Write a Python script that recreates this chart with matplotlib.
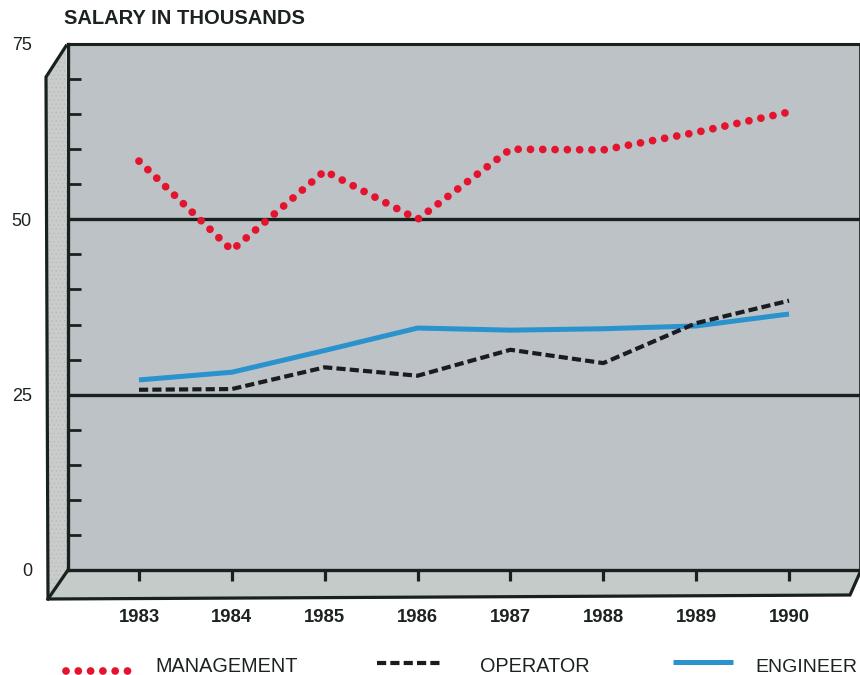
import matplotlib
matplotlib.use("Agg")
import matplotlib.pyplot as plt
from matplotlib.patches import Polygon
from matplotlib.ticker import FixedLocator

# ---------------- data ----------------
years = [1983, 1984, 1985, 1986, 1987, 1988, 1989, 1990]
management = [58.3, 45.6, 56.9, 50.0, 60.0, 59.9, 62.4, 65.3]
operator = [25.7, 25.8, 28.9, 27.7, 31.4, 29.5, 35.2, 38.4]
engineer = [27.1, 28.2, 31.3, 34.5, 34.2, 34.4, 34.8, 36.5]
y_major = [0, 25, 50, 75]
y_minor = [5, 10, 15, 20, 30, 35, 40, 45, 55, 60, 65, 70]
series_labels = ["MANAGEMENT", "OPERATOR", "ENGINEER"]
title_text = "SALARY IN THOUSANDS"

# ---------------- style ----------------
FONT = "Liberation Sans"
DARK = "#17221e"
TXT = "#1c2220"
RED = "#e3142d"
BLUE = "#2a92cc"
OPC = "#1a1c22"
BACK = "#bdc2c7"
SIDE = "#c9ccca"
FLOOR = "#c4cbc8"

W, H = 860, 675
fig = plt.figure(figsize=(W / 100, H / 100), dpi=100)
fig.patch.set_facecolor("white")

# decoration layer in pixel coordinates
deco = fig.add_axes([0, 0, 1, 1], zorder=0)
deco.set_xlim(0, W)
deco.set_ylim(H, 0)
deco.axis("off")

# side panel
side_pts = [(46, 77), (66, 46), (68, 570), (48, 599)]
deco.add_patch(Polygon(side_pts, closed=True, facecolor=SIDE, edgecolor="none"))
plt.rcParams["hatch.linewidth"] = 0.5
deco.add_patch(Polygon(side_pts, closed=True, facecolor="none", edgecolor="#b6bbb9",
                       hatch="....", linewidth=0))
# floor
deco.add_patch(Polygon([(48, 599), (68, 570), (862, 568), (850, 595)],
                       closed=True, facecolor=FLOOR, edgecolor="none"))
deco.plot([66, 46, 48, 850, 862], [46, 77, 599, 595, 568],
          color=DARK, lw=2.3, solid_joinstyle="miter")
deco.plot([48, 68], [599, 570], color=DARK, lw=2.3)

# ---------------- main (back plane) axes ----------------
left_px, right_px, top_px, bot_px = 68, 860, 44, 570
ax = fig.add_axes([left_px / W, 1 - bot_px / H,
                   (right_px - left_px) / W, (bot_px - top_px) / H], zorder=1)
ax.set_facecolor(BACK)
ppy = (789 - 139) / 7.0
ax.set_xlim(1983 - (139 - left_px) / ppy, 1990 + (right_px - 789) / ppy)
ax.set_ylim(0, 75)

for side, lw in [("left", 2.4), ("bottom", 2.4), ("top", 2.2), ("right", 1.2)]:
    ax.spines[side].set_color(DARK)
    ax.spines[side].set_linewidth(lw)

for v in (25, 50):
    ax.axhline(v, color=DARK, lw=2.4, zorder=1)

ax.set_yticks(y_major)
ax.set_yticklabels([str(v) for v in y_major], fontsize=13, family=FONT, color=TXT)
ax.yaxis.set_minor_locator(FixedLocator(y_minor))
ax.tick_params(axis="y", which="major", length=0, pad=26)
ax.tick_params(axis="y", which="minor", direction="in", length=9, width=2.0, color=DARK)

ax.set_xticks(years)
ax.set_xticklabels([str(y) for y in years], fontsize=13.3, family=FONT,
                   fontweight="bold", color=TXT)
ax.tick_params(axis="x", which="major", direction="out", length=8, width=2.3,
               color=DARK, pad=20)

ax.plot(years, engineer, color=BLUE, lw=3.6, solid_capstyle="butt", zorder=3)
ax.plot(years, operator, color=OPC, lw=3.0, linestyle=(0, (2.2, 1.0)),
        dash_capstyle="butt", zorder=4)
ax.plot(years, management, color=RED, lw=5.6, linestyle=(0, (0.001, 1.58)),
        dash_capstyle="round", zorder=5)

# ---------------- title ----------------
deco.text(64, 18, title_text, fontsize=14.5, family=FONT, fontweight="bold",
          color=TXT, ha="left", va="center")

# ---------------- legend ----------------
deco.plot([66, 128], [671, 671], color=RED, lw=5.6, linestyle=(0, (0.001, 1.58)),
          dash_capstyle="round")
deco.text(155, 666, series_labels[0], fontsize=14.3, family=FONT, color=TXT,
          ha="left", va="center")
deco.plot([377, 441], [663, 663], color=OPC, lw=3.0, linestyle=(0, (2.2, 1.0)),
          dash_capstyle="butt")
deco.text(480, 667, series_labels[1], fontsize=14.3, family=FONT, color=TXT,
          ha="left", va="center")
deco.plot([673, 733], [662, 662], color=BLUE, lw=3.6, solid_capstyle="butt")
deco.text(755, 667, series_labels[2], fontsize=14.0, family=FONT, color=TXT,
          ha="left", va="center")

fig.savefig("out.png", dpi=100)
